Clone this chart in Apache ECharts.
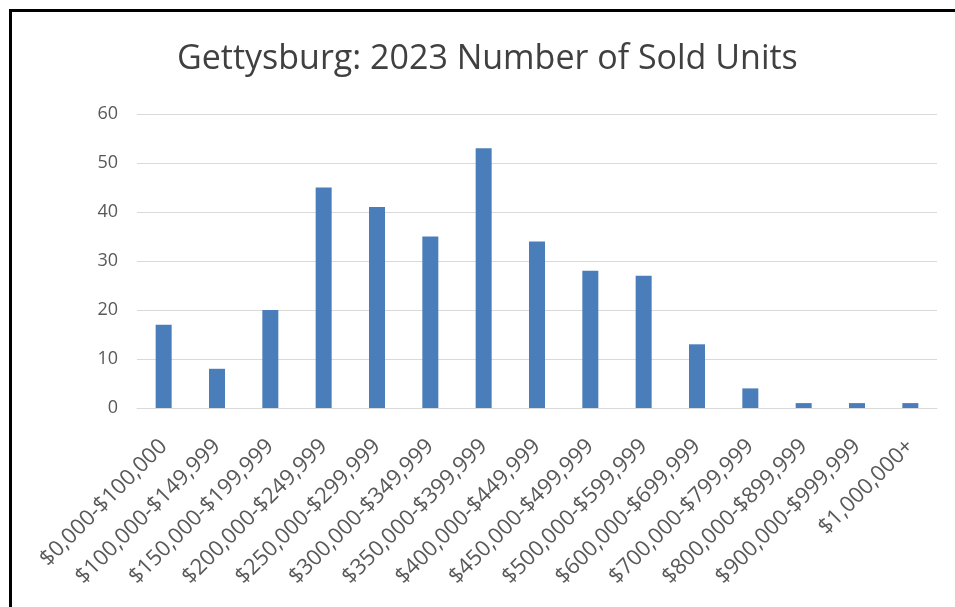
<!DOCTYPE html>
<html>
<head>
<meta charset="utf-8">
<script src="https://cdn.jsdelivr.net/npm/echarts@6/dist/echarts.min.js"></script>
<style>
  html, body { margin: 0; padding: 0; background: #fff; }
  #wrap { position: relative; width: 955px; height: 607px; overflow: hidden; }
  #chart { position: absolute; left: 0; top: 0; width: 955px; height: 607px; }
  #frame { position: absolute; left: 9px; top: 9px; width: 960px; height: 620px;
           border-top: 3px solid #000; border-left: 3px solid #000; pointer-events: none; }
</style>
</head>
<body>
<div id="wrap">
  <div id="chart"></div>
  <div id="frame"></div>
</div>
<script>
// Price brackets and number of units sold in each during 2023
const priceRanges = [
  '$0,000-$100,000', '$100,000-$149,999', '$150,000-$199,999', '$200,000-$249,999',
  '$250,000-$299,999', '$300,000-$349,999', '$350,000-$399,999', '$400,000-$449,999',
  '$450,000-$499,999', '$500,000-$599,999', '$600,000-$699,999', '$700,000-$799,999',
  '$800,000-$899,999', '$900,000-$999,999', '$1,000,000+'
];
const soldUnits = [17, 8, 20, 45, 41, 35, 53, 34, 28, 27, 13, 4, 1, 1, 1];
const yTicks = { min: 0, max: 60, interval: 10 };

const font = 'Open Sans, Noto Sans, sans-serif';
const chart = echarts.init(document.getElementById('chart'));
chart.setOption({
  animation: false,
  title: {
    text: 'Gettysburg: 2023 Number of Sold Units',
    left: 172,
    top: 37,
    textStyle: { fontFamily: font, fontSize: 34, fontWeight: 'normal', color: '#404040' }
  },
  grid: { left: 137, right: 18, top: 114, bottom: 199, containLabel: false },
  xAxis: {
    type: 'category',
    data: priceRanges,
    axisLine: { lineStyle: { color: '#d9d9d9', width: 1 } },
    axisTick: { show: false },
    axisLabel: {
      rotate: 45,
      interval: 0,
      margin: 35,
      fontFamily: font,
      fontSize: 22,
      color: '#595959'
    }
  },
  yAxis: {
    type: 'value',
    min: yTicks.min,
    max: yTicks.max,
    interval: yTicks.interval,
    axisLine: { show: false },
    axisTick: { show: false },
    splitLine: { lineStyle: { color: '#d9d9d9', width: 1 } },
    axisLabel: { fontFamily: font, fontSize: 18, color: '#595959', margin: 19 }
  },
  series: [{
    type: 'bar',
    data: soldUnits,
    barWidth: 16,
    itemStyle: { color: '#4a7ebb' }
  }]
});
</script>
</body>
</html>
